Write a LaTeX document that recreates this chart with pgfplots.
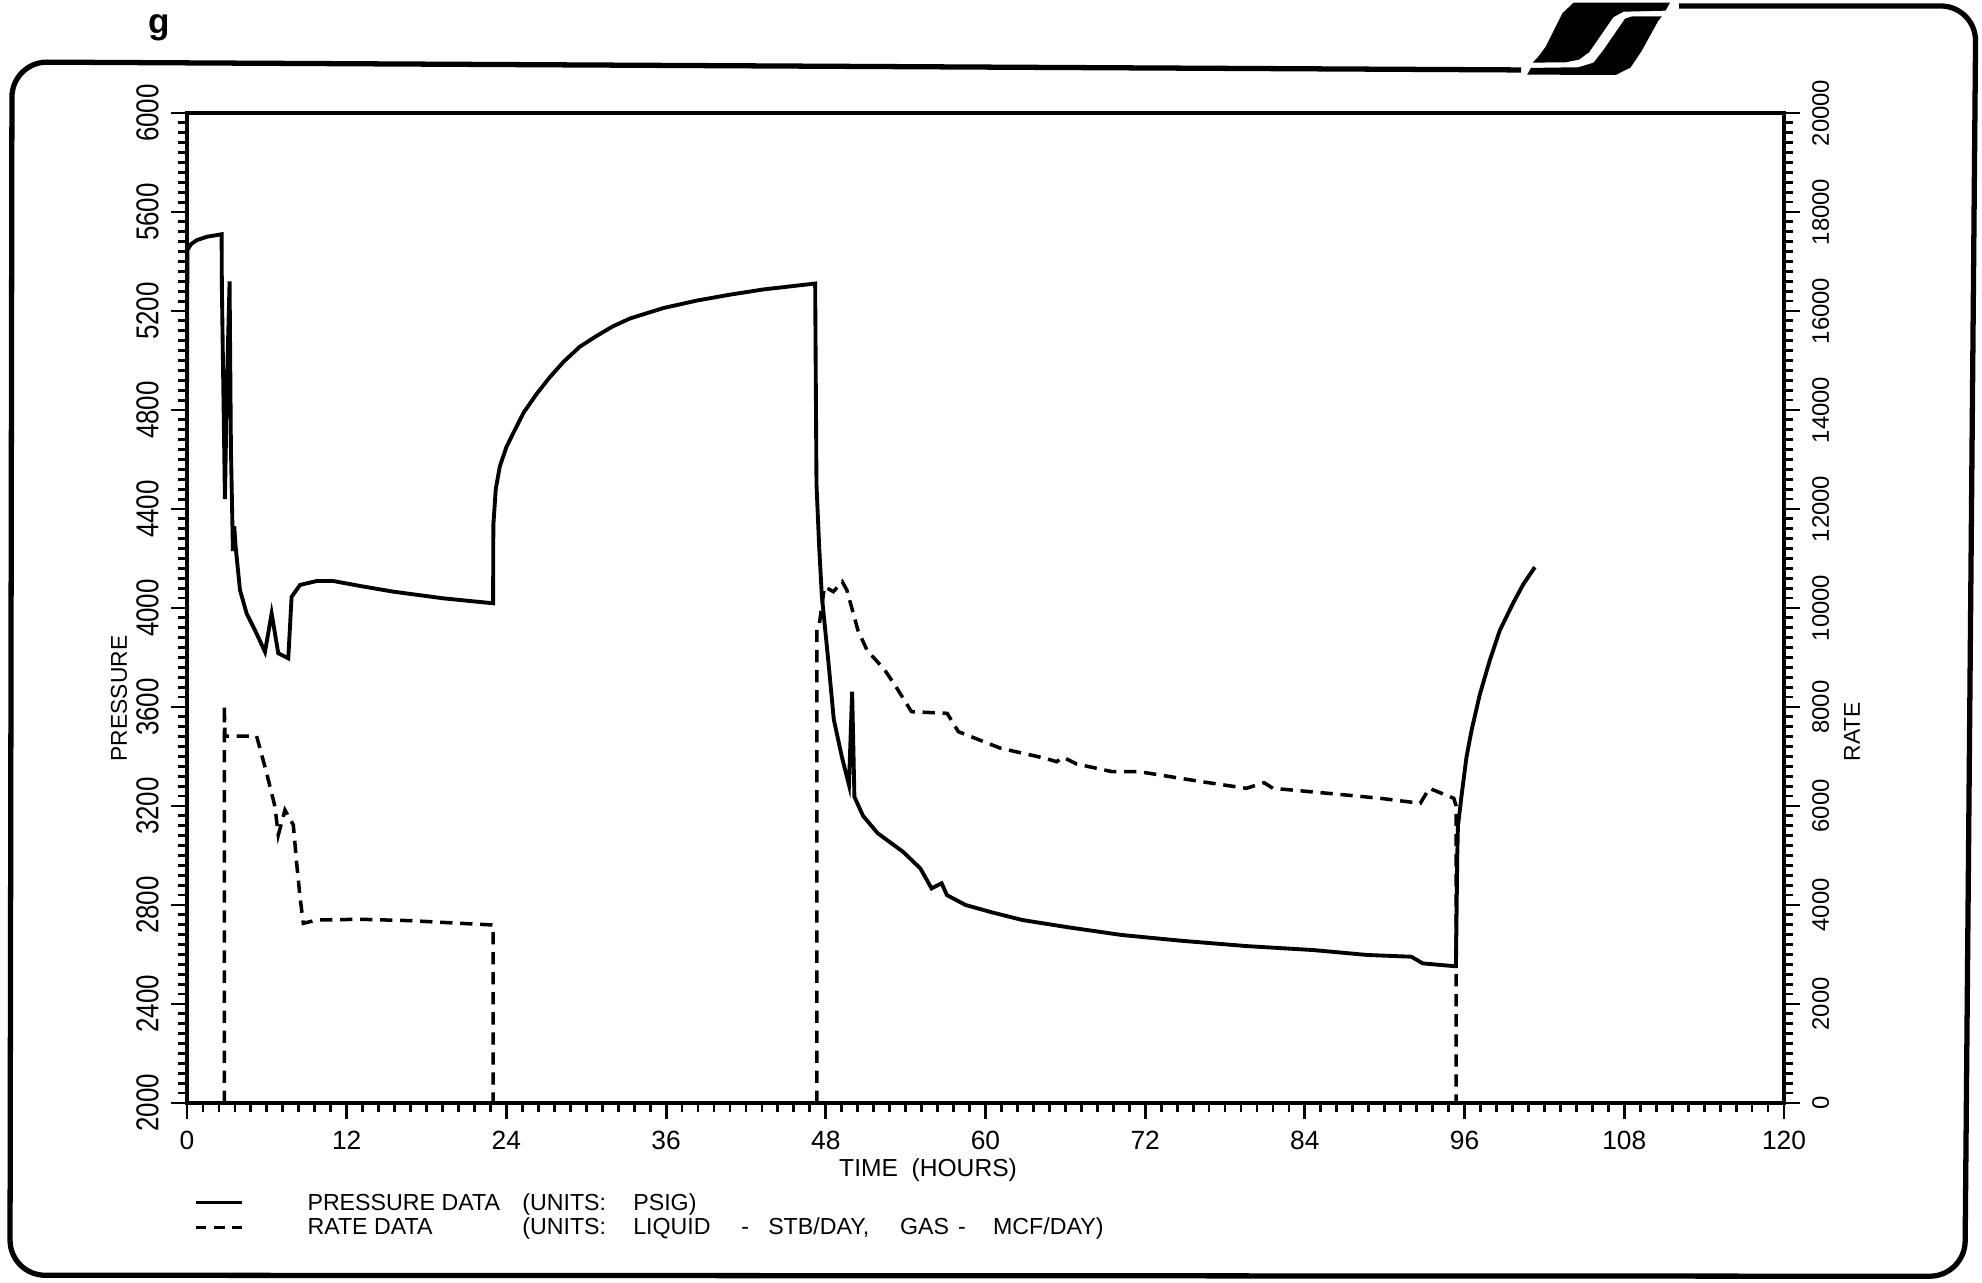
\documentclass[border=0pt]{standalone}
\usepackage{fontspec}
\setmainfont{Liberation Sans}
\newfontfamily\ylfont[FakeStretch=0.82]{Liberation Sans}
\usepackage{pgfplots}
\pgfplotsset{compat=1.18}

\pgfplotstableread{
t P
0 4800
0.03 5446
0.3 5470
0.73 5486
1.5 5500
2.6 5510
2.62 5300
2.85 4440
3.0 4900
3.2 5320
3.3 4650
3.45 4230
3.55 4330
3.65 4250
3.98 4073
4.48 3978
5.2 3900
5.86 3823
6.36 3978
6.86 3817
7.61 3797
7.86 4045
8.49 4093
9.74 4109
10.99 4109
13.0 4089
15.5 4066
19.26 4039
23.0 4019
23.02 4335
23.2 4480
23.5 4571
24.0 4650
24.5 4705
25.3 4790
26.3 4867
27.3 4935
28.3 4995
29.5 5055
30.8 5100
32.0 5138
33.3 5170
35.8 5212
38.3 5242
40.8 5266
43.3 5287
47.2 5311
47.3 4500
47.5 4250
47.7 4050
48.2 3780
48.6 3550
49.2 3400
49.74 3285
49.98 3662
50.15 3237
50.8 3160
51.9 3090
53.8 3015
55.1 2948
55.95 2867
56.7 2888
57.1 2840
58.5 2800
60.5 2770
62.8 2739
66.2 2710
70.2 2679
74.6 2656
79.6 2634
84.6 2618
88.7 2598
92.0 2591
92.85 2564
95.2 2553
95.35 2553
95.45 3000
95.5 3118
95.77 3242
96.14 3397
96.52 3505
97.14 3650
97.9 3790
98.65 3910
99.65 4020
100.4 4095
101.28 4165
}\pressure

\pgfplotstableread{
t R
2.8 0
2.8 8040
2.85 7413
5.23 7413
5.99 6660
6.61 5986
6.86 5414
7.36 5919
7.99 5616
8.24 4842
8.49 4167
8.74 3630
9.74 3697
13.0 3711
16.75 3684
20.5 3630
23.0 3596
23.0 0
}\rateA

\pgfplotstableread{
t R
47.33 0
47.33 9589
47.5 9650
47.9 10430
48.57 10330
49.24 10530
49.58 10363
50.41 9555
51.09 9151
52.43 8747
53.27 8410
54.44 7905
57.12 7872
57.96 7501
61.15 7165
64.5 6963
65.34 6895
65.85 6983
66.85 6848
69.53 6693
71.55 6693
76.24 6491
79.6 6357
80.94 6471
81.6 6357
86.3 6242
89.66 6155
92.67 6054
93.35 6357
95.19 6155
95.36 6000
95.36 0
}\rateB

\begin{document}
\begin{tikzpicture}
\begin{scope}[x=0.01cm,y=-0.01cm]
 % outer frame
 \draw[line width=1.5pt, rounded corners=10pt] (1522,70) -- (12,62) -- (10,1276) -- (1966,1277) -- (1977,6) -- (1680,6);
 % logo
 \fill (1533.6,62.7) -- (1539.2,56.7) -- (1546.6,46.7) -- (1563.3,13.3) -- (1574.5,2.7) -- (1671,2.7) -- (1666.5,10.7) -- (1624.4,11.7) -- (1614.2,17.3) -- (1590,52.3) -- (1579.9,59.7) -- (1566.9,62.3) -- cycle;
 \fill (1528.1,74.7) -- (1531.8,68) -- (1579.5,67.3) -- (1594.5,62.7) -- (1603.7,51) -- (1626,18.7) -- (1633.4,16.3) -- (1662.8,16.3) -- (1659.1,21) -- (1642.6,51) -- (1631.4,67.7) -- (1616.6,75) -- cycle;
 % title fragment
 \node[anchor=base west, inner sep=0, font=\bfseries\fontsize{10}{10}\selectfont] at (148,34) {g};
 % axis titles
 \node[rotate=90, inner sep=0, font=\fontsize{6.5}{6.5}\selectfont] at (119,699) {PRESSURE};
 \node[rotate=90, inner sep=0, font=\fontsize{6.5}{6.5}\selectfont] at (1853,732) {RATE};
 \node[anchor=base west, inner sep=0, font=\fontsize{7}{7}\selectfont] at (839,1177) {TIME\ \ (HOURS)};
 % legend
 \draw[line width=0.9pt] (196,1203) -- (242,1203);
 \draw[line width=0.9pt, dash pattern=on 3pt off 2.2pt] (196,1228) -- (242,1228);
 \begin{scope}[every node/.style={anchor=base west, inner sep=0, font=\fontsize{6.6}{6.6}\selectfont}]
 \node at (307,1211) {PRESSURE DATA};
 \node at (522,1211) {(UNITS:};
 \node at (633,1211) {PSIG)};
 \node at (307,1235) {RATE DATA};
 \node at (522,1235) {(UNITS:};
 \node at (633,1235) {LIQUID};
 \node at (741,1235) {-};
 \node at (768,1235) {STB/DAY,};
 \node at (900,1235) {GAS};
 \node at (958,1235) {-};
 \node at (993,1235) {MCF/DAY)};
 \end{scope}
\end{scope}

\begin{axis}[
  at={(1.87cm,-11.03cm)}, anchor=south west,
  scale only axis, width=15.97cm, height=9.90cm,
  xmin=0, xmax=120, ymin=2000, ymax=6000,
  scaled x ticks=false, scaled y ticks=false,
  xtick={0,12,...,120},
  xticklabels={0,12,24,36,48,60,72,84,96,108,120},
  minor x tick num=9,
  ytick={2000,2400,...,6000},
  yticklabels={2000,2400,2800,3200,3600,4000,4400,4800,5200,5600,6000},
  minor y tick num=9,
  xtick pos=bottom, ytick pos=left,
  tick align=outside,
  major tick length=4.5pt, minor tick length=2.5pt,
  axis line style={line width=0.9pt},
  tick style={line width=0.8pt, black},
  xticklabel style={font=\fontsize{7.5}{7.5}\selectfont},
  yticklabel style={font=\ylfont\fontsize{9}{9}\selectfont, rotate=90, anchor=south},
]
\addplot[line width=1.1pt, black] table[x=t, y=P] {\pressure};
\end{axis}

\begin{axis}[
  at={(1.87cm,-11.03cm)}, anchor=south west,
  scale only axis, width=15.97cm, height=9.90cm,
  xmin=0, xmax=120, ymin=0, ymax=20000,
  scaled x ticks=false, scaled y ticks=false,
  axis x line=none, axis y line*=right,
  ytick={0,2000,...,20000},
  yticklabels={0,2000,4000,6000,8000,10000,12000,14000,16000,18000,20000},
  minor y tick num=9,
  tick align=outside,
  major tick length=4.5pt, minor tick length=2.5pt,
  axis line style={line width=0.9pt},
  tick style={line width=0.8pt, black},
  yticklabel style={font=\fontsize{6.8}{6.8}\selectfont, rotate=90, anchor=north},
]
\addplot[line width=1pt, black, dash pattern=on 3.5pt off 2.2pt] table[x=t, y=R] {\rateA};
\addplot[line width=1pt, black, dash pattern=on 3.5pt off 2.2pt] table[x=t, y=R] {\rateB};
\end{axis}

\pgfresetboundingbox
\path[use as bounding box] (0,0) rectangle (19.82,-12.83);
\end{tikzpicture}
\end{document}
